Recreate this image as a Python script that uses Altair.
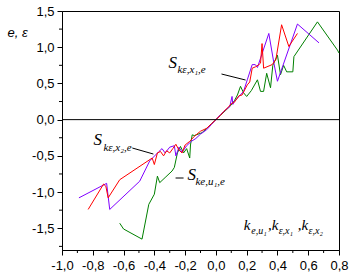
import altair as alt
import pandas as pd

# ---- data ----
red_x = [-0.83,-0.73,-0.715,-0.70,-0.625,-0.414,-0.40,-0.38,-0.36,-0.34,-0.32,-0.30,-0.28,-0.26,-0.24,-0.22,-0.20,-0.17,-0.14,-0.10,-0.06,-0.03,0.0,0.03,0.05,0.08,0.10,0.12,0.15,0.17,0.204,0.22,0.236,0.258,0.28,0.29,0.30,0.31,0.366,0.39,0.427,0.474,0.53]
red_y = [-1.24,-0.89,-0.92,-1.08,-0.83,-0.53,-0.62,-0.46,-0.44,-0.50,-0.43,-0.46,-0.40,-0.34,-0.42,-0.46,-0.35,-0.30,-0.23,-0.16,-0.12,-0.06,0.0,0.06,0.11,0.17,0.22,0.24,0.33,0.34,0.48,0.52,0.71,0.73,0.76,0.78,1.05,0.71,0.76,0.83,1.31,1.01,1.19]

pur_x = [-0.89,-0.71,-0.69,-0.495,-0.43,-0.37,-0.35,-0.33,-0.30,-0.27,-0.26,-0.24,-0.22,-0.19,-0.16,-0.13,-0.10,-0.06,-0.03,0.0,0.03,0.06,0.09,0.105,0.11,0.12,0.15,0.18,0.204,0.236,0.256,0.27,0.344,0.377,0.40,0.53,0.67]
pur_y = [-1.08,-0.88,-1.24,-0.85,-0.57,-0.44,-0.40,-0.46,-0.38,-0.36,-0.50,-0.38,-0.45,-0.36,-0.30,-0.26,-0.20,-0.14,-0.07,0.0,0.07,0.13,0.18,0.32,0.21,0.25,0.32,0.39,0.55,0.76,0.76,0.72,1.19,0.78,0.53,1.32,1.06]

grn_x = [-0.625,-0.60,-0.48,-0.436,-0.40,-0.38,-0.365,-0.33,-0.285,-0.27,-0.25,-0.23,-0.21,-0.19,-0.17,-0.165,-0.154,-0.14,-0.09,-0.06,-0.03,0.0,0.03,0.06,0.09,0.12,0.14,0.16,0.18,0.20,0.23,0.27,0.29,0.31,0.33,0.355,0.37,0.40,0.42,0.44,0.46,0.50,0.507,0.66,0.79,0.80]
grn_y = [-1.43,-1.51,-1.65,-1.17,-1.03,-0.78,-0.87,-0.80,-0.71,-0.66,-0.46,-0.37,-0.46,-0.40,-0.53,-0.35,-0.21,-0.22,-0.18,-0.12,-0.06,0.0,0.06,0.12,0.18,0.26,0.34,0.46,0.37,0.32,0.40,0.55,0.39,0.39,0.64,0.44,0.75,0.89,0.62,0.75,0.66,0.66,0.87,1.35,0.96,0.92]

x_major = [-1.0,-0.8,-0.6,-0.4,-0.2,0.0,0.2,0.4,0.6,0.8]
x_minor = [-0.9,-0.7,-0.5,-0.3,-0.1,0.1,0.3,0.5,0.7]
y_major = [-1.5,-1.0,-0.5,0.0,0.5,1.0,1.5]
y_minor = [-1.75,-1.25,-0.75,-0.25,0.25,0.75,1.25]

series = [("green", grn_x, grn_y, "#008000"),
          ("purple", pur_x, pur_y, "#8000ff"),
          ("red", red_x, red_y, "#ff0000")]

xs = alt.Scale(domain=[-1.0, 0.8], nice=False, zero=False)
ys = alt.Scale(domain=[-1.8, 1.5], nice=False, zero=False)

lab = "replace(replace(format(datum.value, '.1f'), '.', ','), '\u2212', '-')"

x_axis = alt.Axis(values=x_major, labelExpr=lab, tickSize=5, tickColor="black",
                  domainColor="black", labelColor="black", labelFont="Liberation Sans",
                  labelFontSize=13, labelPadding=4, grid=False, title=None,
                  labelOverlap=False, labelFlush=False)
y_axis = alt.Axis(values=y_major, labelExpr=lab, tickSize=5, tickColor="black",
                  domainColor="black", labelColor="black", labelFont="Liberation Sans",
                  labelFontSize=13, labelPadding=3, grid=False, labelOverlap=False,
                  title="e, \u03b5", titleAngle=0, titleX=-55, titleY=25,
                  titleAlign="left", titleBaseline="alphabetic", titleFont="Liberation Sans",
                  titleFontStyle="italic", titleFontWeight="normal", titleFontSize=13,
                  titleColor="black")


def X(f):
    return alt.X(f, scale=xs, axis=x_axis)


def Y(f):
    return alt.Y(f, scale=ys, axis=y_axis)


layers = []
for name, sx, sy, col in series:
    df = pd.DataFrame({"x": sx, "y": sy, "i": range(len(sx))})
    layers.append(
        alt.Chart(df).mark_line(color=col, strokeWidth=1).encode(
            x=X("x:Q"), y=Y("y:Q"), order="i:Q",
        )
    )

# zero line
zero = alt.Chart(pd.DataFrame({"y": [0.0]})).mark_rule(color="black", strokeWidth=1).encode(
    y=Y("y:Q"), x=alt.value(0), x2=alt.value(277))

# minor ticks
ymin = alt.Chart(pd.DataFrame({"y": y_minor})).mark_rule(color="black", strokeWidth=1).encode(
    y=Y("y:Q"), x=alt.value(0), x2=alt.value(-3))
xmin = alt.Chart(pd.DataFrame({"x": x_minor})).mark_rule(color="black", strokeWidth=1).encode(
    x=X("x:Q"), y=alt.value(239), y2=alt.value(242))

# leader lines
lead = pd.DataFrame({"x": [0.0365, -0.543, -0.262], "y": [0.630, -0.392, -0.806],
                     "x2": [0.193, -0.406, -0.21], "y2": [0.547, -0.475, -0.806]})
leaders = alt.Chart(lead).mark_rule(color="black", strokeWidth=1).encode(
    x=X("x:Q"), y=Y("y:Q"), x2="x2:Q", y2="y2:Q")

# annotation text pieces
big = pd.DataFrame({"t": ["S", "S", "S"], "x": [-0.308, -0.796, -0.184], "y": [0.713, -0.350, -0.834]})
sub = pd.DataFrame({"t": ["k\u03b5,x\u2081,e", "k\u03b5,x\u2082,e", "ke,u\u2081,e"],
                    "x": [-0.250, -0.731, -0.133], "y": [0.644, -0.433, -0.903]})
bigt = alt.Chart(big).mark_text(font="Liberation Serif", fontStyle="italic", fontSize=17,
                                align="left", baseline="alphabetic", color="black").encode(
    x=X("x:Q"), y=Y("y:Q"), text="t:N")
subt = alt.Chart(sub).mark_text(font="Liberation Serif", fontStyle="italic", fontSize=11,
                                align="left", baseline="alphabetic", color="black").encode(
    x=X("x:Q"), y=Y("y:Q"), text="t:N")

# x title pieces: k letters and their subscripts
kk = pd.DataFrame({"t": ["k", ",k", ",k"], "x": [0.181, 0.338, 0.532], "y": [-1.52, -1.52, -1.52]})
ks = pd.DataFrame({"t": ["e,u\u2081", "\u03b5,x\u2081", "\u03b5,x\u2082"],
                   "x": [0.230, 0.408, 0.602], "y": [-1.58, -1.58, -1.58]})
kkt = alt.Chart(kk).mark_text(font="Liberation Serif", fontStyle="italic", fontSize=15,
                              align="left", baseline="alphabetic", color="black").encode(
    x=X("x:Q"), y=Y("y:Q"), text="t:N")
kst = alt.Chart(ks).mark_text(font="Liberation Serif", fontStyle="italic", fontSize=10,
                              align="left", baseline="alphabetic", color="black").encode(
    x=X("x:Q"), y=Y("y:Q"), text="t:N")

chart = alt.layer(*layers, zero, ymin, xmin, leaders, bigt, subt, kkt, kst).properties(
    width=277, height=239,
    padding={"left": 62, "top": 11, "right": 11, "bottom": 30},
    autosize=alt.AutoSizeParams(type="none"),
    background="white",
).configure_view(stroke="black", strokeWidth=1)

chart.save("out.html", embed_options={"renderer": "svg", "actions": False})
